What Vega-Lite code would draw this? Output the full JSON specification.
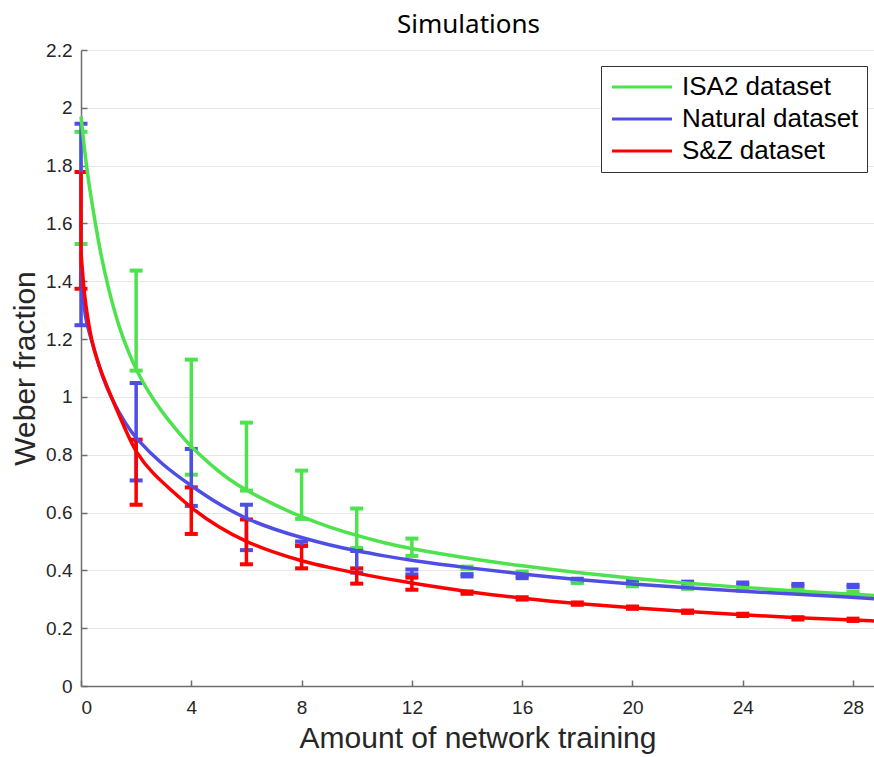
{
  "$schema": "https://vega.github.io/schema/vega-lite/v6.json",
  "autosize": "none",
  "width": 793,
  "height": 636,
  "padding": {"left": 81, "top": 50, "right": 0, "bottom": 71},
  "background": "white",
  "title": {"text": "Simulations", "font": "Noto Sans", "fontSize": 26, "fontWeight": "normal", "color": "#000", "anchor": "middle", "frame": "group", "offset": 3, "dx": -9},
  "config": {
    "view": {"stroke": null},
    "axis": {"gridColor": "#e6e6e6", "gridWidth": 1, "domainColor": "#6e6e6e", "tickColor": "#6e6e6e", "labelColor": "#262626", "labelFont": "Liberation Sans", "labelFontSize": 19, "titleFont": "Liberation Sans", "titleFontSize": 30, "titleFontWeight": "normal", "titleColor": "#262626", "domainWidth": 1.5, "tickWidth": 1.5}
  },
  "datasets": {
    "curves": [
      {"series": "ISA2 dataset", "x": 0, "y": 1.97},
      {"series": "ISA2 dataset", "x": 0.12, "y": 1.86},
      {"series": "ISA2 dataset", "x": 0.25, "y": 1.76},
      {"series": "ISA2 dataset", "x": 0.45, "y": 1.64},
      {"series": "ISA2 dataset", "x": 0.7, "y": 1.5},
      {"series": "ISA2 dataset", "x": 1.0, "y": 1.37},
      {"series": "ISA2 dataset", "x": 1.38, "y": 1.24},
      {"series": "ISA2 dataset", "x": 1.74, "y": 1.15},
      {"series": "ISA2 dataset", "x": 2, "y": 1.095},
      {"series": "ISA2 dataset", "x": 2.34, "y": 1.033},
      {"series": "ISA2 dataset", "x": 2.94, "y": 0.946},
      {"series": "ISA2 dataset", "x": 3.54, "y": 0.877},
      {"series": "ISA2 dataset", "x": 4, "y": 0.826},
      {"series": "ISA2 dataset", "x": 4.74, "y": 0.762},
      {"series": "ISA2 dataset", "x": 5.34, "y": 0.716},
      {"series": "ISA2 dataset", "x": 6, "y": 0.676},
      {"series": "ISA2 dataset", "x": 7, "y": 0.627},
      {"series": "ISA2 dataset", "x": 8, "y": 0.584},
      {"series": "ISA2 dataset", "x": 9, "y": 0.55},
      {"series": "ISA2 dataset", "x": 10, "y": 0.52},
      {"series": "ISA2 dataset", "x": 11, "y": 0.495},
      {"series": "ISA2 dataset", "x": 12, "y": 0.474},
      {"series": "ISA2 dataset", "x": 14, "y": 0.442},
      {"series": "ISA2 dataset", "x": 16, "y": 0.415},
      {"series": "ISA2 dataset", "x": 18, "y": 0.392},
      {"series": "ISA2 dataset", "x": 20, "y": 0.372},
      {"series": "ISA2 dataset", "x": 22, "y": 0.355},
      {"series": "ISA2 dataset", "x": 24, "y": 0.341},
      {"series": "ISA2 dataset", "x": 26, "y": 0.328},
      {"series": "ISA2 dataset", "x": 28, "y": 0.317},
      {"series": "ISA2 dataset", "x": 28.76, "y": 0.313},
      {"series": "Natural dataset", "x": 0, "y": 1.45},
      {"series": "Natural dataset", "x": 0.1, "y": 1.31},
      {"series": "Natural dataset", "x": 0.2, "y": 1.255},
      {"series": "Natural dataset", "x": 0.42, "y": 1.183},
      {"series": "Natural dataset", "x": 0.78, "y": 1.067},
      {"series": "Natural dataset", "x": 1.14, "y": 0.987},
      {"series": "Natural dataset", "x": 1.62, "y": 0.906},
      {"series": "Natural dataset", "x": 2, "y": 0.855},
      {"series": "Natural dataset", "x": 2.94, "y": 0.765},
      {"series": "Natural dataset", "x": 4, "y": 0.692},
      {"series": "Natural dataset", "x": 5, "y": 0.628},
      {"series": "Natural dataset", "x": 6, "y": 0.578},
      {"series": "Natural dataset", "x": 7, "y": 0.542},
      {"series": "Natural dataset", "x": 8, "y": 0.513},
      {"series": "Natural dataset", "x": 9, "y": 0.488},
      {"series": "Natural dataset", "x": 10, "y": 0.467},
      {"series": "Natural dataset", "x": 11, "y": 0.45},
      {"series": "Natural dataset", "x": 12, "y": 0.434},
      {"series": "Natural dataset", "x": 14, "y": 0.409},
      {"series": "Natural dataset", "x": 16, "y": 0.387},
      {"series": "Natural dataset", "x": 18, "y": 0.368},
      {"series": "Natural dataset", "x": 20, "y": 0.353},
      {"series": "Natural dataset", "x": 22, "y": 0.339},
      {"series": "Natural dataset", "x": 24, "y": 0.328},
      {"series": "Natural dataset", "x": 26, "y": 0.317},
      {"series": "Natural dataset", "x": 28, "y": 0.307},
      {"series": "Natural dataset", "x": 28.76, "y": 0.302},
      {"series": "S&Z dataset", "x": 0, "y": 1.5},
      {"series": "S&Z dataset", "x": 0.12, "y": 1.35},
      {"series": "S&Z dataset", "x": 0.25, "y": 1.27},
      {"series": "S&Z dataset", "x": 0.37, "y": 1.2},
      {"series": "S&Z dataset", "x": 0.6, "y": 1.12},
      {"series": "S&Z dataset", "x": 0.9, "y": 1.045},
      {"series": "S&Z dataset", "x": 1.26, "y": 0.964},
      {"series": "S&Z dataset", "x": 1.62, "y": 0.885},
      {"series": "S&Z dataset", "x": 2, "y": 0.805},
      {"series": "S&Z dataset", "x": 2.58, "y": 0.737},
      {"series": "S&Z dataset", "x": 3.3, "y": 0.675},
      {"series": "S&Z dataset", "x": 4, "y": 0.615},
      {"series": "S&Z dataset", "x": 5, "y": 0.548},
      {"series": "S&Z dataset", "x": 6, "y": 0.498},
      {"series": "S&Z dataset", "x": 7, "y": 0.462},
      {"series": "S&Z dataset", "x": 8, "y": 0.432},
      {"series": "S&Z dataset", "x": 9, "y": 0.41},
      {"series": "S&Z dataset", "x": 10, "y": 0.39},
      {"series": "S&Z dataset", "x": 11, "y": 0.372},
      {"series": "S&Z dataset", "x": 12, "y": 0.356},
      {"series": "S&Z dataset", "x": 14, "y": 0.326},
      {"series": "S&Z dataset", "x": 16, "y": 0.303},
      {"series": "S&Z dataset", "x": 18, "y": 0.285},
      {"series": "S&Z dataset", "x": 20, "y": 0.27},
      {"series": "S&Z dataset", "x": 22, "y": 0.257},
      {"series": "S&Z dataset", "x": 24, "y": 0.246},
      {"series": "S&Z dataset", "x": 26, "y": 0.236},
      {"series": "S&Z dataset", "x": 28, "y": 0.228},
      {"series": "S&Z dataset", "x": 28.76, "y": 0.225}
    ],
    "bars": [
      {"series": "ISA2 dataset", "x": 0, "lo": 1.529, "hi": 1.917},
      {"series": "ISA2 dataset", "x": 2, "lo": 1.091, "hi": 1.437},
      {"series": "ISA2 dataset", "x": 4, "lo": 0.731, "hi": 1.129},
      {"series": "ISA2 dataset", "x": 6, "lo": 0.676, "hi": 0.911},
      {"series": "ISA2 dataset", "x": 8, "lo": 0.578, "hi": 0.745},
      {"series": "ISA2 dataset", "x": 10, "lo": 0.477, "hi": 0.614},
      {"series": "ISA2 dataset", "x": 12, "lo": 0.45, "hi": 0.51},
      {"series": "ISA2 dataset", "x": 14, "lo": 0.405, "hi": 0.413},
      {"series": "ISA2 dataset", "x": 16, "lo": 0.388, "hi": 0.396},
      {"series": "ISA2 dataset", "x": 18, "lo": 0.356, "hi": 0.364},
      {"series": "ISA2 dataset", "x": 20, "lo": 0.345, "hi": 0.353},
      {"series": "ISA2 dataset", "x": 22, "lo": 0.336, "hi": 0.344},
      {"series": "ISA2 dataset", "x": 24, "lo": 0.329, "hi": 0.337},
      {"series": "ISA2 dataset", "x": 26, "lo": 0.325, "hi": 0.333},
      {"series": "ISA2 dataset", "x": 28, "lo": 0.319, "hi": 0.327},
      {"series": "Natural dataset", "x": 0, "lo": 1.248, "hi": 1.945},
      {"series": "Natural dataset", "x": 2, "lo": 0.711, "hi": 1.048},
      {"series": "Natural dataset", "x": 4, "lo": 0.623, "hi": 0.82},
      {"series": "Natural dataset", "x": 6, "lo": 0.47, "hi": 0.627},
      {"series": "Natural dataset", "x": 8, "lo": 0.484, "hi": 0.5},
      {"series": "Natural dataset", "x": 10, "lo": 0.392, "hi": 0.467},
      {"series": "Natural dataset", "x": 12, "lo": 0.386, "hi": 0.403},
      {"series": "Natural dataset", "x": 14, "lo": 0.379, "hi": 0.387},
      {"series": "Natural dataset", "x": 16, "lo": 0.373, "hi": 0.381},
      {"series": "Natural dataset", "x": 18, "lo": 0.363, "hi": 0.371},
      {"series": "Natural dataset", "x": 20, "lo": 0.359, "hi": 0.367},
      {"series": "Natural dataset", "x": 22, "lo": 0.353, "hi": 0.361},
      {"series": "Natural dataset", "x": 24, "lo": 0.35, "hi": 0.358},
      {"series": "Natural dataset", "x": 26, "lo": 0.345, "hi": 0.353},
      {"series": "Natural dataset", "x": 28, "lo": 0.342, "hi": 0.35},
      {"series": "S&Z dataset", "x": 0, "lo": 1.374, "hi": 1.778},
      {"series": "S&Z dataset", "x": 2, "lo": 0.627, "hi": 0.852},
      {"series": "S&Z dataset", "x": 4, "lo": 0.526, "hi": 0.687},
      {"series": "S&Z dataset", "x": 6, "lo": 0.421, "hi": 0.576},
      {"series": "S&Z dataset", "x": 8, "lo": 0.407, "hi": 0.486},
      {"series": "S&Z dataset", "x": 10, "lo": 0.354, "hi": 0.407},
      {"series": "S&Z dataset", "x": 12, "lo": 0.333, "hi": 0.375},
      {"series": "S&Z dataset", "x": 14, "lo": 0.319, "hi": 0.327},
      {"series": "S&Z dataset", "x": 16, "lo": 0.299, "hi": 0.307},
      {"series": "S&Z dataset", "x": 18, "lo": 0.281, "hi": 0.289},
      {"series": "S&Z dataset", "x": 20, "lo": 0.267, "hi": 0.275},
      {"series": "S&Z dataset", "x": 22, "lo": 0.253, "hi": 0.261},
      {"series": "S&Z dataset", "x": 24, "lo": 0.242, "hi": 0.25},
      {"series": "S&Z dataset", "x": 26, "lo": 0.23, "hi": 0.238},
      {"series": "S&Z dataset", "x": 28, "lo": 0.225, "hi": 0.233}
    ]
  },
  "encoding": {
    "x": {"field": "x", "type": "quantitative", "scale": {"domain": [0, 28.76], "nice": false, "zero": false},
      "axis": {"title": "Amount of network training", "values": [0, 4, 8, 12, 16, 20, 24, 28], "tickSize": -6, "labelPadding": 18, "titlePadding": 6, "grid": false}},
    "color": {"field": "series", "type": "nominal",
      "scale": {"domain": ["ISA2 dataset", "Natural dataset", "S&Z dataset"], "range": ["#4ee24e", "#4e4ee4", "#ff0000"]},
      "legend": {"title": null, "orient": "none", "legendX": 520, "legendY": 16, "direction": "vertical",
        "symbolType": "M-1,0H5", "symbolSize": 400, "symbolStrokeWidth": 3, "symbolFillColor": "transparent", "symbolOpacity": 1,
        "labelFont": "Liberation Sans", "labelFontSize": 26, "labelColor": "#000", "labelOffset": 47, "labelLimit": 400,
        "padding": 8, "rowPadding": 6, "strokeColor": "#333", "fillColor": "white"}}
  },
  "layer": [
    {
      "data": {"name": "bars"},
      "mark": {"type": "errorbar", "opacity": 1, "ticks": {"size": 13, "thickness": 4, "opacity": 1}, "rule": {"strokeWidth": 3.5, "opacity": 1}},
      "encoding": {
        "y": {"field": "lo", "type": "quantitative", "title": "Weber fraction"},
        "y2": {"field": "hi"}
      }
    },
    {
      "data": {"name": "curves"},
      "mark": {"type": "line", "strokeWidth": 3.5, "interpolate": "basis", "opacity": 1},
      "encoding": {
        "y": {"field": "y", "type": "quantitative", "scale": {"domain": [0, 2.2], "nice": false},
          "axis": {"title": "Weber fraction", "values": [0, 0.2, 0.4, 0.6, 0.8, 1, 1.2, 1.4, 1.6, 1.8, 2, 2.2], "format": "~g", "tickSize": -6, "labelPadding": 15, "titlePadding": 5, "grid": true}}
      }
    }
  ]
}
